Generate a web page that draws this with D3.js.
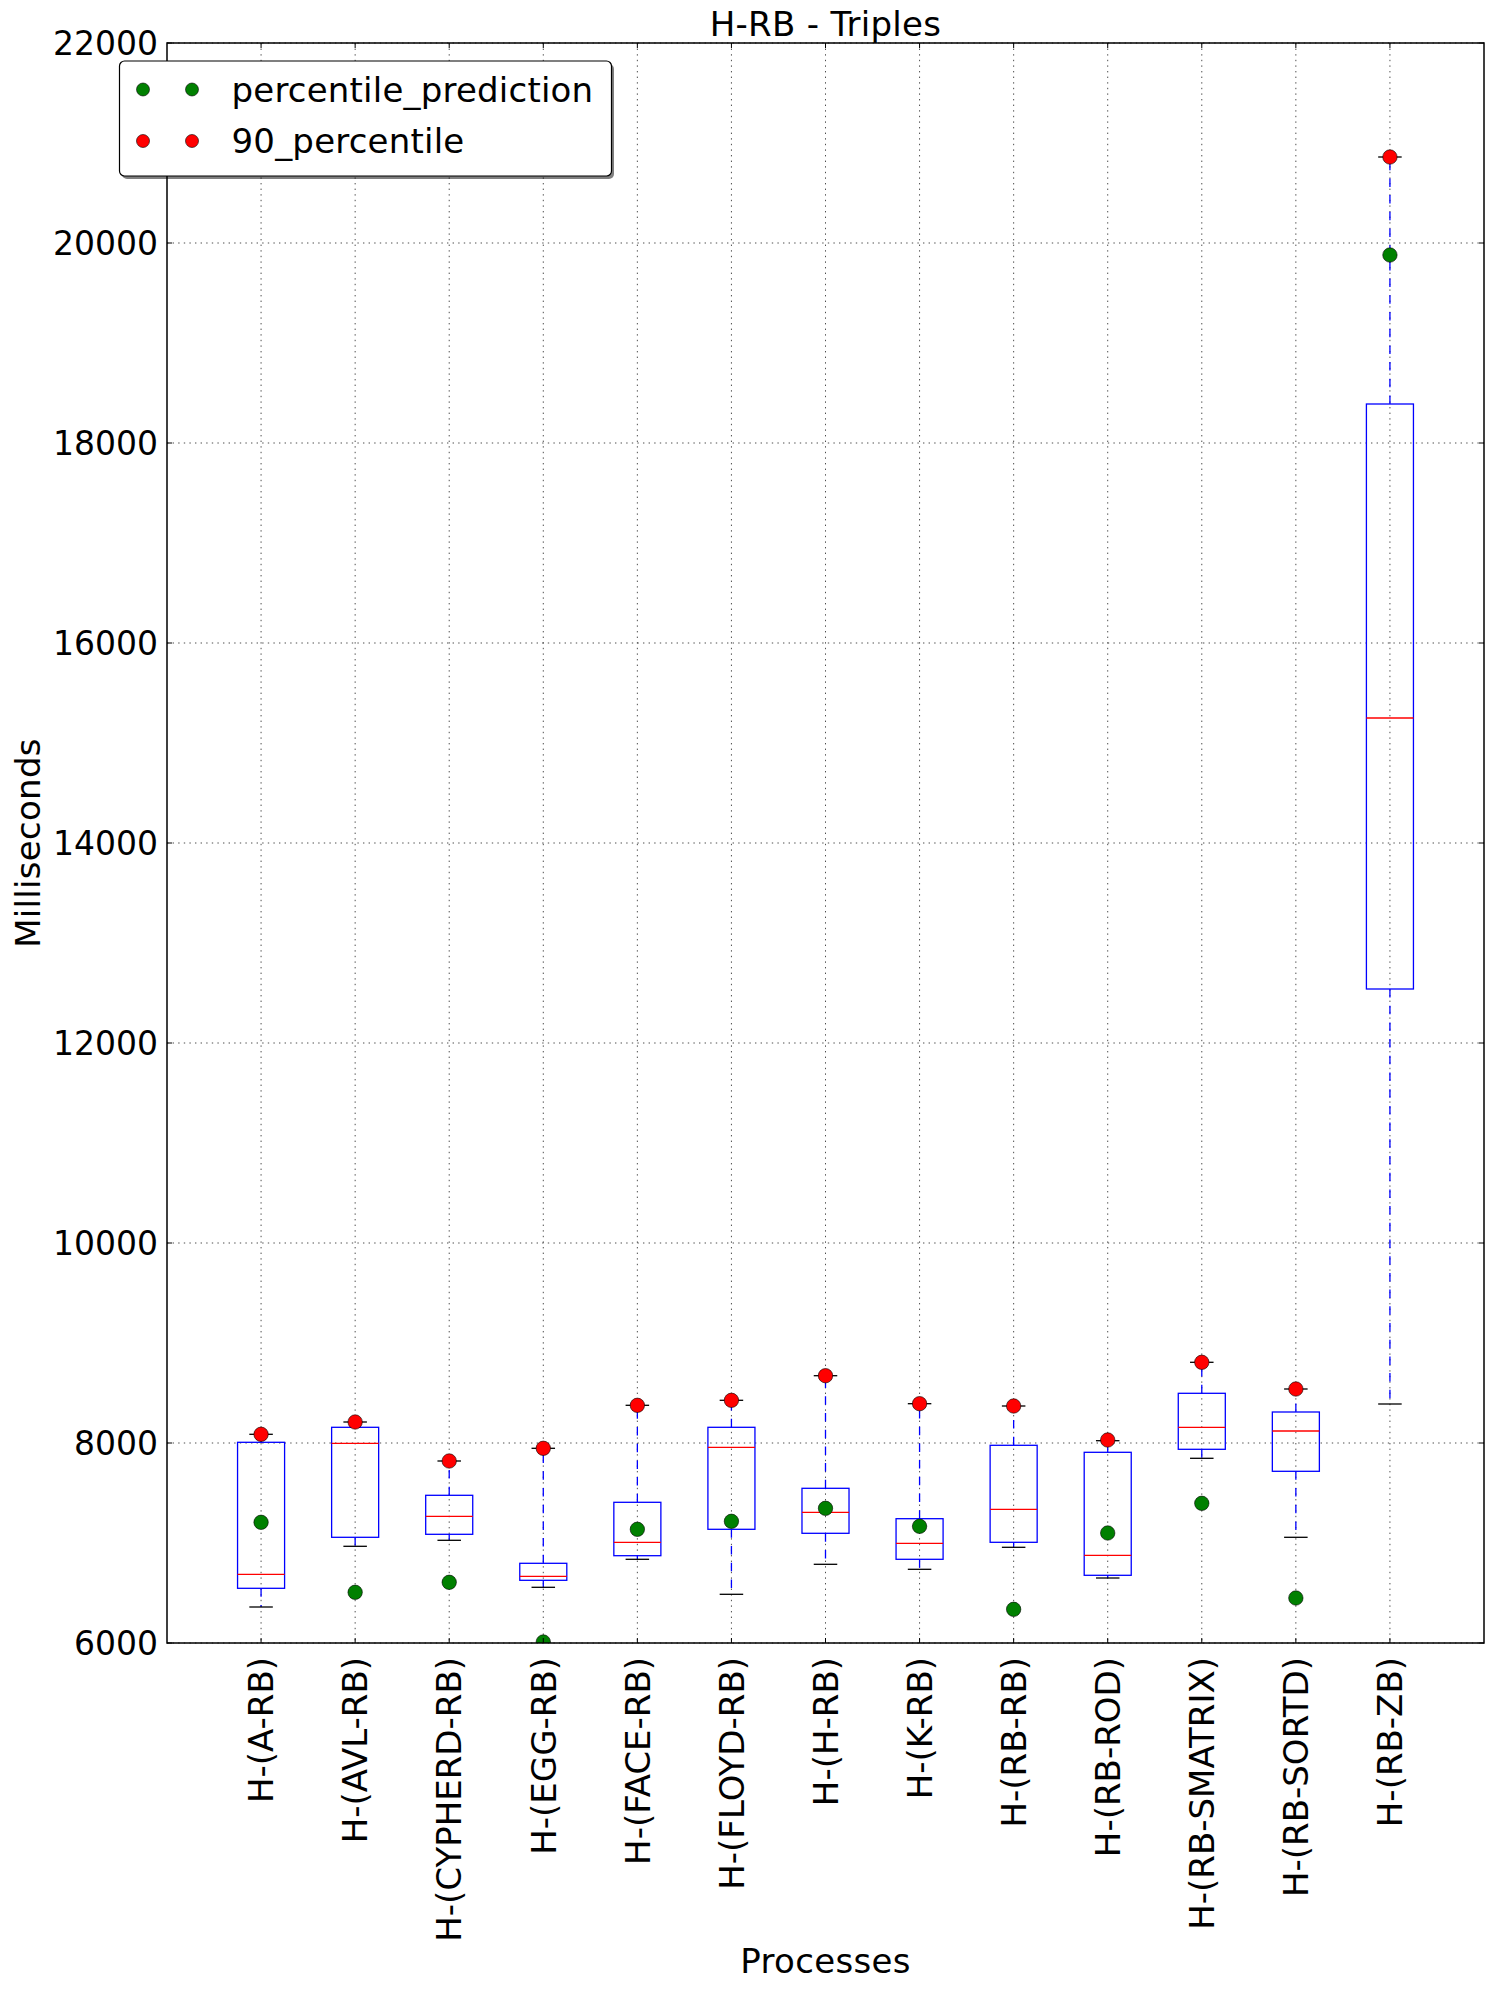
<!DOCTYPE html>
<html>
<head>
<meta charset="utf-8">
<script src="https://cdn.jsdelivr.net/npm/d3@7"></script>
<style>
  html, body { margin: 0; padding: 0; background: #fff; }
  svg { display: block; }
  text { font-family: "DejaVu Sans", sans-serif; fill: #000; }
</style>
</head>
<body>
<svg id="chart" width="1494" height="1991"></svg>
<script>
// ---- Data ----
const categories = ["H-(A-RB)", "H-(AVL-RB)", "H-(CYPHERD-RB)", "H-(EGG-RB)", "H-(FACE-RB)",
  "H-(FLOYD-RB)", "H-(H-RB)", "H-(K-RB)", "H-(RB-RB)", "H-(RB-ROD)", "H-(RB-SMATRIX)",
  "H-(RB-SORTD)", "H-(RB-ZB)"];
const whiskerLow  = [6360, 6967, 7027, 6557, 6837, 6487, 6787, 6737, 6957, 6650, 7847, 7057, 8390];
const q1          = [6547, 7057, 7087, 6627, 6873, 7137, 7097, 6837, 7007, 6677, 7937, 7717, 12540];
const median      = [6687, 7997, 7267, 6667, 7007, 7957, 7307, 6997, 7337, 6877, 8157, 8120, 15250];
const q3          = [8007, 8157, 7477, 6797, 7407, 8157, 7547, 7243, 7977, 7907, 8497, 8310, 18390];
const whiskerHigh = [8087, 8210, 7820, 7947, 8377, 8427, 8673, 8393, 8370, 8023, 8807, 8540, 20860];
const percentile90 = [8087, 8210, 7820, 7947, 8377, 8427, 8673, 8393, 8370, 8030, 8807, 8540, 20860];
const percentilePrediction = [7207, 6507, 6607, 6010, 7137, 7217, 7347, 7167, 6337, 7100, 7397, 6450, 19880];
const yTicks = [6000, 8000, 10000, 12000, 14000, 16000, 18000, 20000, 22000];
const legendLabels = ["percentile_prediction", "90_percentile"];
const title = "H-RB - Triples";
const xLabel = "Processes";
const yLabel = "Milliseconds";

// ---- Layout ----
const L = 167, R = 1484, T = 43, B = 1643;
const FS = 34;
const svg = d3.select("#chart");

const x = d3.scaleLinear().domain([0, categories.length + 1]).range([L, R]);
const y = d3.scaleLinear().domain([6000, 22000]).range([B, T]);
const pos = i => x(i + 1);
const boxW = x(0.5) - x(0);
const capW = x(0.25) - x(0);

svg.append("defs").append("clipPath").attr("id", "plotclip")
  .append("rect").attr("x", L).attr("y", T).attr("width", R - L).attr("height", B - T);

// grid
const grid = svg.append("g");
grid.selectAll("line.gy").data(yTicks).join("line")
  .attr("x1", L).attr("x2", R).attr("y1", d => y(d)).attr("y2", d => y(d))
  .attr("stroke", "#000").attr("stroke-width", 0.7).attr("stroke-dasharray", "1.4,4.2");
grid.selectAll("line.gx").data(categories).join("line")
  .attr("x1", (d, i) => pos(i)).attr("x2", (d, i) => pos(i)).attr("y1", T).attr("y2", B)
  .attr("stroke", "#000").attr("stroke-width", 0.7).attr("stroke-dasharray", "1.4,4.2");

// boxes
const g = svg.append("g").attr("clip-path", "url(#plotclip)");
categories.forEach((c, i) => {
  const cx = pos(i);
  g.append("line").attr("x1", cx).attr("x2", cx).attr("y1", y(q1[i])).attr("y2", y(whiskerLow[i]))
    .attr("stroke", "#0000ff").attr("stroke-width", 1.3).attr("stroke-dasharray", "8.5,8.2");
  g.append("line").attr("x1", cx).attr("x2", cx).attr("y1", y(q3[i])).attr("y2", y(whiskerHigh[i]))
    .attr("stroke", "#0000ff").attr("stroke-width", 1.3).attr("stroke-dasharray", "8.5,8.2");
  [whiskerLow[i], whiskerHigh[i]].forEach(v => {
    g.append("line").attr("x1", cx - capW / 2).attr("x2", cx + capW / 2)
      .attr("y1", y(v)).attr("y2", y(v)).attr("stroke", "#000").attr("stroke-width", 1.3);
  });
  g.append("rect").attr("x", cx - boxW / 2).attr("y", y(q3[i]))
    .attr("width", boxW).attr("height", y(q1[i]) - y(q3[i]))
    .attr("fill", "none").attr("stroke", "#0000ff").attr("stroke-width", 1.3);
  g.append("line").attr("x1", cx - boxW / 2).attr("x2", cx + boxW / 2)
    .attr("y1", y(median[i])).attr("y2", y(median[i]))
    .attr("stroke", "#ff0000").attr("stroke-width", 1.3);
});

// points
g.selectAll("circle.pred").data(percentilePrediction).join("circle")
  .attr("cx", (d, i) => pos(i)).attr("cy", d => y(d)).attr("r", 7.2)
  .attr("fill", "#008000").attr("stroke", "#000").attr("stroke-width", 0.6);
g.selectAll("circle.p90").data(percentile90).join("circle")
  .attr("cx", (d, i) => pos(i)).attr("cy", d => y(d)).attr("r", 7.2)
  .attr("fill", "#ff0000").attr("stroke", "#000").attr("stroke-width", 0.6);

// ticks (inward, all four sides)
const tk = svg.append("g").attr("stroke", "#000").attr("stroke-width", 1);
yTicks.forEach(v => {
  tk.append("line").attr("x1", L).attr("x2", L + 5).attr("y1", y(v)).attr("y2", y(v));
  tk.append("line").attr("x1", R).attr("x2", R - 5).attr("y1", y(v)).attr("y2", y(v));
});
categories.forEach((c, i) => {
  tk.append("line").attr("x1", pos(i)).attr("x2", pos(i)).attr("y1", B).attr("y2", B - 5);
  tk.append("line").attr("x1", pos(i)).attr("x2", pos(i)).attr("y1", T).attr("y2", T + 5);
});

// frame
svg.append("rect").attr("x", L).attr("y", T).attr("width", R - L).attr("height", B - T)
  .attr("fill", "none").attr("stroke", "#000").attr("stroke-width", 1.5);

// y tick labels
svg.append("g").selectAll("text").data(yTicks).join("text")
  .attr("x", L - 9).attr("y", d => y(d)).attr("dy", "0.36em")
  .attr("text-anchor", "end").attr("font-size", 33).text(d => d);

// x tick labels
svg.append("g").selectAll("text").data(categories).join("text")
  .attr("transform", (d, i) => `translate(${pos(i)},${B + 14}) rotate(-90)`)
  .attr("text-anchor", "end").attr("dy", "0.36em").attr("font-size", FS).text(d => d);

// titles
svg.append("text").attr("x", (L + R) / 2).attr("y", 36).attr("text-anchor", "middle")
  .attr("font-size", FS).attr("letter-spacing", 0.3).text(title);
svg.append("text").attr("x", (L + R) / 2).attr("y", 1973).attr("text-anchor", "middle")
  .attr("font-size", FS).attr("letter-spacing", 0.3).text(xLabel);
svg.append("text").attr("transform", `translate(40,${(T + B) / 2}) rotate(-90)`)
  .attr("text-anchor", "middle").attr("font-size", FS).attr("letter-spacing", 0.3).text(yLabel);

// legend
const lg = svg.append("g");
lg.append("rect").attr("x", 122).attr("y", 64).attr("width", 492).attr("height", 115)
  .attr("rx", 5).attr("fill", "rgba(0,0,0,0.5)");
lg.append("rect").attr("x", 119.5).attr("y", 61).attr("width", 492).attr("height", 115)
  .attr("rx", 5).attr("fill", "#fff").attr("stroke", "#000").attr("stroke-width", 1.2);
const legColors = ["#008000", "#ff0000"];
legendLabels.forEach((lab, k) => {
  const cy = 89.5 + k * 51.5;
  [143, 192].forEach(cx => {
    lg.append("circle").attr("cx", cx).attr("cy", cy).attr("r", 6.5)
      .attr("fill", legColors[k]).attr("stroke", "#000").attr("stroke-width", 0.6);
  });
  lg.append("text").attr("x", 231.5).attr("y", cy + 12).attr("font-size", FS).attr("letter-spacing", 0.2).text(lab);
});
</script>
</body>
</html>
